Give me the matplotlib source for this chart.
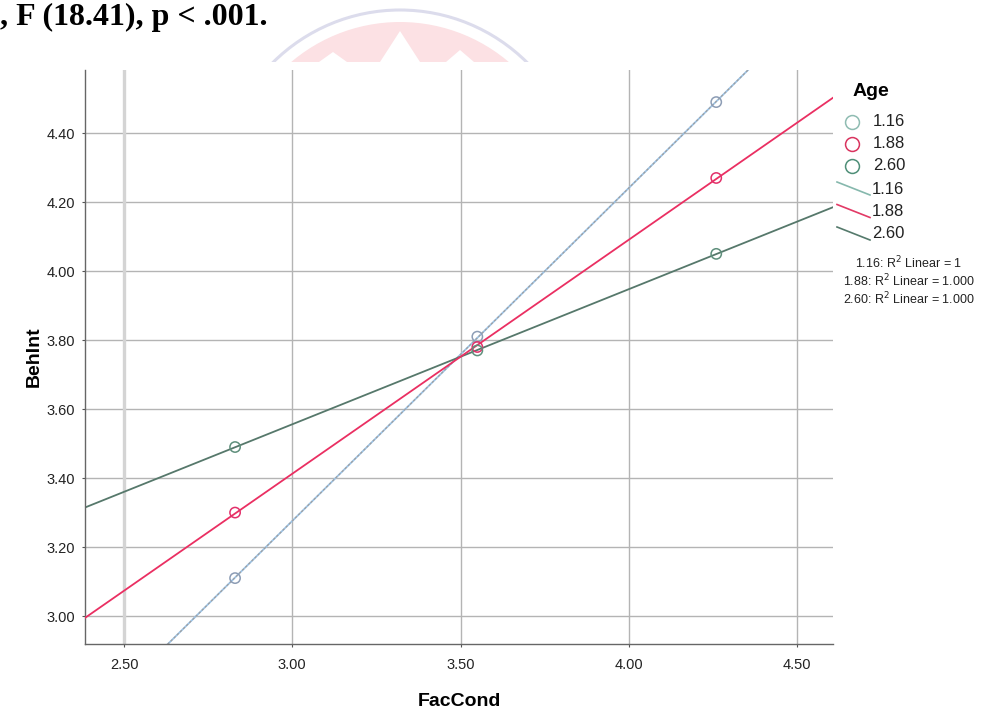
import numpy as np
import matplotlib.pyplot as plt
from matplotlib.lines import Line2D
from matplotlib.patches import Wedge, Arc, Polygon

# Simple slopes: BehInt predicted from FacCond at three levels of Age
fac_cond = [2.83, 3.55, 4.26]
age_levels = ["1.16", "1.88", "2.60"]
beh_int = {
    "1.16": [3.11, 3.81, 4.49],
    "1.88": [3.30, 3.78, 4.27],
    "2.60": [3.49, 3.77, 4.05],
}
r2_labels = ["1", "1.000", "1.000"]
x_ticks = [2.50, 3.00, 3.50, 4.00, 4.50]
y_ticks = [3.00, 3.20, 3.40, 3.60, 3.80, 4.00, 4.20, 4.40]

marker_colors = {"1.16": "#8d9db5", "1.88": "#e2306a", "2.60": "#5f8f7c"}
line_colors = {"1.16": "#9cc4e8", "1.88": "#ea2f62", "2.60": "#56786b"}
legend_marker_colors = {"1.16": "#8fbcb2", "1.88": "#d9345f", "2.60": "#4f8f78"}
legend_line_colors = {"1.16": "#86b8ad", "1.88": "#e23a66", "2.60": "#557a6c"}

plt.rcParams["font.family"] = ["Liberation Sans", "DejaVu Sans"]

fig = plt.figure(figsize=(9.92, 7.11), dpi=100)
W, H = 992, 711

def fx(px):
    return px / W

def fy(py):
    return 1 - py / H

# Faint emblem behind the heading (pixel coordinates, y pointing down)
emb = fig.add_axes([0, fy(62), 1, 1 - fy(62)])
emb.set_xlim(0, W)
emb.set_ylim(62, 0)
emb.axis("off")
emb.add_patch(Wedge((400, 190), 168, 180, 360, facecolor="#fce1e4", edgecolor="none"))
emb.add_patch(Arc((400, 190), 360, 360, theta1=180, theta2=360, color="#dcdcec", lw=2.2))
for cx, top, half in [(400, 31, 20), (333, 52, 14), (460, 50, 14)]:
    emb.add_patch(Polygon([(cx - half, 62), (cx, top), (cx + half, 62)],
                          closed=True, facecolor="white", edgecolor="none"))

fig.text(fx(0), fy(25), ", F (18.41), p < .001.", family=["Liberation Serif"],
         fontweight="bold", fontsize=23, ha="left", va="baseline", color="black")

ax = fig.add_axes([fx(85), fy(644), fx(833) - fx(85), fy(70) - fy(644)])
xlim = (2.384, 4.607)
ylim = (2.919, 4.583)
ax.set_xlim(*xlim)
ax.set_ylim(*ylim)

for yt in y_ticks:
    ax.axhline(yt, color="#b4b4b4", lw=1.0, zorder=0)
for xt in x_ticks:
    if xt == 2.50:
        ax.axvline(xt, color="#d4d4d4", lw=2.4, zorder=0)
    else:
        ax.axvline(xt, color="#b4b4b4", lw=1.0, zorder=0)

xs = np.array(xlim)
for lvl in age_levels:
    slope, icpt = np.polyfit(fac_cond, beh_int[lvl], 1)
    if lvl == "1.16":
        ax.plot(xs, slope * xs + icpt, color=line_colors[lvl], lw=1.3, zorder=2)
        ax.plot(xs, slope * xs + icpt, color="#a0a0a0", lw=0.9,
                dashes=(2, 1.5), zorder=2)
    else:
        ax.plot(xs, slope * xs + icpt, color=line_colors[lvl], lw=1.3,
                zorder=3 if lvl == "1.88" else 2)
    ax.scatter(fac_cond, beh_int[lvl], s=55, facecolors="none",
               edgecolors=marker_colors[lvl], linewidths=1.1, zorder=4)

ax.set_xticks(x_ticks)
ax.set_yticks(y_ticks)
ax.set_xticklabels([f"{v:.2f}" for v in x_ticks])
ax.set_yticklabels([f"{v:.2f}" for v in y_ticks])
ax.tick_params(axis="both", labelsize=10.5, colors="#555555", labelcolor="#222222",
               length=2, width=0.8)
ax.tick_params(axis="x", pad=8)
ax.tick_params(axis="y", pad=5)
for side in ("top", "right"):
    ax.spines[side].set_visible(False)
for side in ("left", "bottom"):
    ax.spines[side].set_color("#666666")
    ax.spines[side].set_linewidth(1.0)

ax.set_xlabel("FacCond", fontsize=14, fontweight="bold", labelpad=15)
ax.set_ylabel("BehInt", fontsize=14, fontweight="bold", labelpad=3)

# Legend drawn in figure coordinates
fig.text(fx(853), fy(91), "Age", fontsize=14, fontweight="bold", ha="left", va="center")
for i, lvl in enumerate(age_levels):
    yy = 122 + i * 22
    fig.add_artist(Line2D([fx(852)], [fy(yy)], marker="o", markersize=10,
                          markerfacecolor="none", markeredgewidth=1.1,
                          markeredgecolor=legend_marker_colors[lvl], linestyle="none"))
    fig.text(fx(873), fy(yy), lvl, fontsize=12, ha="left", va="center", color="#222222")
for i, lvl in enumerate(age_levels):
    yy = 189 + i * 22.5
    fig.add_artist(Line2D([fx(837), fx(870)], [fy(yy - 7), fy(yy + 6)],
                          color=legend_line_colors[lvl], lw=1.2))
    fig.text(fx(872), fy(yy), lvl, fontsize=12, ha="left", va="center", color="#222222")
for i, (lvl, r2) in enumerate(zip(age_levels, r2_labels)):
    fig.text(fx(909), fy(263 + i * 18), f"{lvl}: R$^2$ Linear = {r2}", fontsize=9,
             ha="center", va="center", color="#222222")

fig.savefig("out.png", dpi=100)
